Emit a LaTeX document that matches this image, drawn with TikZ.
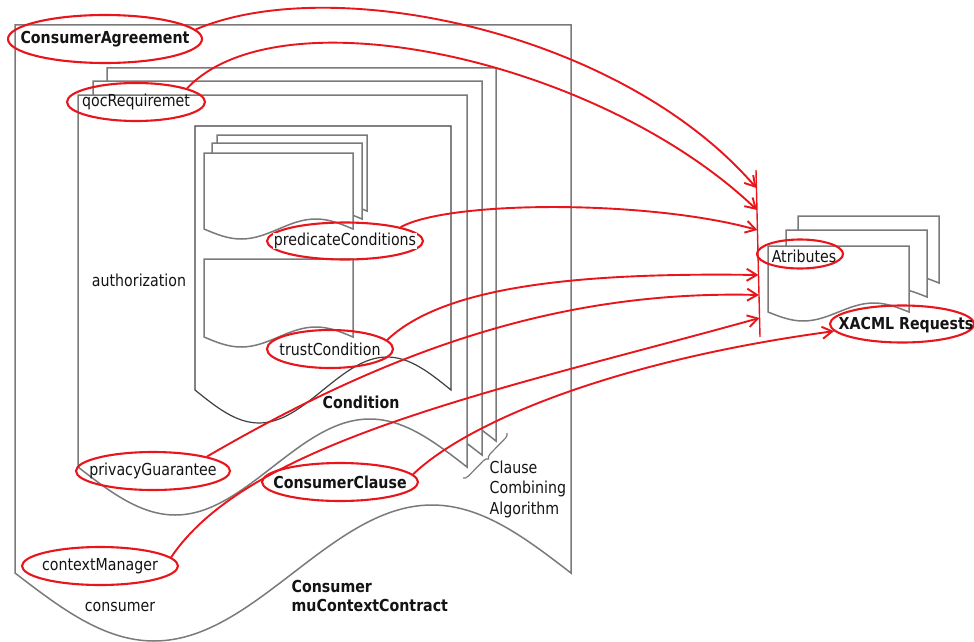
\documentclass[tikz,border=0pt]{standalone}
\usepackage{fontspec}
\setmainfont[FakeStretch=0.86]{DejaVu Sans}
\usetikzlibrary{arrows.meta,shapes.geometric,decorations.pathreplacing}
\definecolor{lred}{RGB}{232,22,28}
\definecolor{dgray}{RGB}{122,122,122}
\definecolor{txt}{RGB}{20,20,20}
% [options]{left}{top}{right}{bottom base}{wave amplitude}
\newcommand\mydoc[6][]{%
  \filldraw[docline,#1] (#4,#5) -- (#4,#3) -- (#2,#3) -- (#2,#5)
    sin ({#2+(#4-#2)/4},{#5+#6}) cos ({#2+(#4-#2)/2},#5)
    sin ({#2+3*(#4-#2)/4},{#5-#6}) cos (#4,#5) -- cycle;}
\begin{document}
\begin{tikzpicture}[x=1pt,y=-1pt,
  docline/.style={draw=dgray, fill=white, line width=1.5pt, line join=miter},
  ell/.style={ellipse, draw=lred, line width=2.1pt, inner sep=0pt},
  lbl/.style={inner sep=0.5pt, text=txt, font=\fontsize{16.5pt}{20.5pt}\selectfont},
  blbl/.style={lbl, font=\fontsize{16.5pt}{20.5pt}\selectfont\bfseries},
  conn/.style={draw=lred, line width=1.9pt, -{Straight Barb[length=10pt,width=12pt]}},
  bracestyle/.style={draw=dgray, line width=1.2pt, decorate, decoration={brace, amplitude=5pt}}]
\useasboundingbox (0,0) rectangle (974,642);
\fill[white] (0,0) rectangle (974,642);
% documents
\mydoc{15}{25}{571}{573}{68}
\mydoc{107}{68}{496}{441}{48}
\mydoc{93}{81}{482}{455}{48}
\mydoc{78}{95}{467}{467}{48}
\mydoc[draw=black!75,line width=1.2pt]{195}{126}{451}{390}{33}
\mydoc{217}{135}{367}{211}{10}
\mydoc{212}{143}{362}{219}{10}
\mydoc{204}{153}{353}{229}{10}
\mydoc{204}{259}{353}{337}{10}
\mydoc{798}{216}{939}{283}{9}
\mydoc{786}{230}{927}{297}{9}
\mydoc{768}{246}{909}{312}{9}
% brace
\coordinate (brA) at (507,433);
\coordinate (brB) at (463,478);
\draw[bracestyle] (brA) -- (brB);
% plain labels
\node[lbl] (auth) at (139,280) {authorization};
\node[blbl] (cond) at (361,402) {Condition};
\node[lbl] (cons) at (120,607) {consumer};
\node[blbl, align=left, anchor=west] (mu) at (291,596) {Consumer\\[-1.5pt]muContextContract};
\node[lbl, align=left, anchor=west] (cca) at (489,489) {Clause\\Combining\\Algorithm};
% ellipses
\node[ell, minimum width=194, minimum height=48] (ca) at (105,39) {};
\node[blbl] (cat) at (ca) {ConsumerAgreement};
\node[ell, minimum width=138, minimum height=38] (qoc) at (136,102) {};
\node[lbl] (qoct) at (qoc) {qocRequiremet};
\node[ell, minimum width=156, minimum height=37] (pc) at (345,241) {};
\node[lbl, fill=white] (pct) at (pc) {predicateConditions};
\node[ell, minimum width=126, minimum height=38] (tc) at (330,349) {};
\node[lbl, fill=white] (tct) at (tc) {trustCondition};
\node[ell, minimum width=154, minimum height=38] (pg) at (153,471) {};
\node[lbl] (pgt) at (pg) {privacyGuarantee};
\node[ell, minimum width=156, minimum height=38] (cc) at (340,482) {};
\node[blbl] (cct) at (cc) {ConsumerClause};
\node[ell, minimum width=156, minimum height=38] (cm) at (100,566) {};
\node[lbl] (cmt) at (cm) {contextManager};
\node[ell, minimum width=86, minimum height=29] (at) at (800,254) {};
\node[lbl] (att) at (804,256) {Atributes};
\node[ell, minimum width=144, minimum height=37] (xr) at (902,324) {};
\node[blbl] (xrt) at (906,325) {XACML Requests};
% collecting bar
\coordinate (barT) at (756,170);
\coordinate (barB) at (760,337);
\draw[draw=lred, line width=1.4pt] (barT) -- (barB);
\coordinate (b1) at (756.4,188);
\coordinate (b2) at (757,210);
\coordinate (b3) at (757.4,230);
\coordinate (b4) at (758.5,275);
\coordinate (b5) at (759,295);
\coordinate (b6) at (759.5,318);
% connectors
\draw[conn] (ca.6) .. controls (330,-28) and (620,30) .. (b1);
\draw[conn] (qoc.15) .. controls (280,-10) and (600,60) .. (b2);
\draw[conn] (pc.14) .. controls (450,200) and (650,200) .. (b3);
\draw[conn] (tc.9) .. controls (440,290) and (560,272) .. (b4);
\draw[conn] (pg.15) .. controls (390,350) and (560,290) .. (b5);
\draw[conn] (cm.7) .. controls (250,440) and (500,390) .. (b6);
\draw[conn] (cc.6) .. controls (470,420) and (620,360) .. (xr.186);
\end{tikzpicture}
\end{document}
